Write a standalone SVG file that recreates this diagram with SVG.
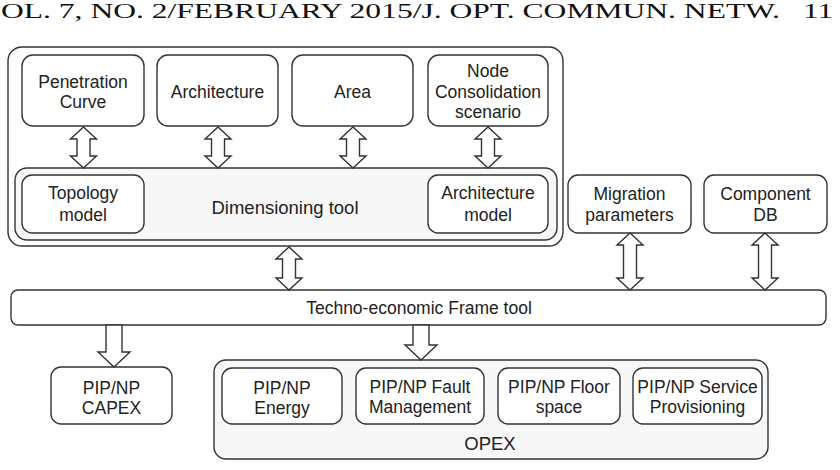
<svg xmlns="http://www.w3.org/2000/svg" width="840" height="470" viewBox="0 0 840 470">
<style>
.box{fill:#fff;stroke:#333;stroke-width:1.4}
.cont{fill:#f7f7f7;stroke:#333;stroke-width:1.4}
.outer{fill:#fff;stroke:#333;stroke-width:1.4}
.arr{fill:#fff;stroke:#333;stroke-width:1.4;stroke-linejoin:miter}
text{font-family:"Liberation Sans",Arial,sans-serif;font-size:17.5px;fill:#222;text-anchor:middle}
.big{font-size:18.5px}
.hdr{font-family:"Liberation Serif","Times New Roman",serif;font-size:20px;fill:#111;text-anchor:start}
</style>
<rect width="840" height="470" fill="#fff"/>
<text class="hdr" x="1" y="18" textLength="779" lengthAdjust="spacingAndGlyphs">OL. 7, NO. 2/FEBRUARY 2015/J. OPT. COMMUN. NETW.</text>
<text class="hdr" x="803" y="18" textLength="30" lengthAdjust="spacingAndGlyphs">11</text>

<g id="dimensioning-group">
<rect class="outer" x="8" y="47" width="555" height="199" rx="14"/>
</g>
<g id="dimensioning-tool">
<rect class="cont" x="15" y="168" width="542" height="72" rx="12"/>
<text class="big" x="285" y="214">Dimensioning tool</text>
</g>
<g id="penetration-curve">
<rect class="box" x="22" y="55" width="122" height="71" rx="11"/>
<text x="83" y="88">Penetration</text><text x="83" y="108">Curve</text>
</g>
<g id="architecture">
<rect class="box" x="157" y="55" width="121" height="71" rx="11"/>
<text x="217.5" y="98">Architecture</text>
</g>
<g id="area">
<rect class="box" x="292" y="55" width="121" height="71" rx="11"/>
<text x="352.5" y="98">Area</text>
</g>
<g id="node-consolidation">
<rect class="box" x="428" y="55" width="120" height="71" rx="11"/>
<text x="488" y="77">Node</text><text x="488" y="98">Consolidation</text><text x="488" y="118">scenario</text>
</g>
<g id="topology-model">
<rect class="box" x="22" y="175" width="122" height="58" rx="10"/>
<text x="83" y="199">Topology</text><text x="83" y="221">model</text>
</g>
<g id="architecture-model">
<rect class="box" x="428" y="175" width="120" height="58" rx="10"/>
<text x="488" y="199">Architecture</text><text x="488" y="221">model</text>
</g>
<g id="migration-parameters">
<rect class="box" x="568" y="175" width="123" height="58" rx="10"/>
<text x="629.5" y="200">Migration</text><text x="629.5" y="221">parameters</text>
</g>
<g id="component-db">
<rect class="box" x="704" y="175" width="123" height="58" rx="10"/>
<text x="765.5" y="200">Component</text><text x="765.5" y="221">DB</text>
</g>
<g id="techno-economic-frame-tool">
<rect class="box" x="11" y="290" width="815" height="35" rx="7"/>
<text x="419" y="314">Techno-economic Frame tool</text>
</g>
<g id="capex">
<rect class="box" x="51" y="367" width="121" height="57" rx="10"/>
<text x="111.5" y="394">PIP/NP</text><text x="111.5" y="414">CAPEX</text>
</g>
<g id="opex">
<rect class="cont" x="214" y="360" width="554" height="99" rx="12"/>
<text class="big" x="490" y="450">OPEX</text>
</g>
<g id="energy">
<rect class="box" x="222" y="368" width="120" height="56" rx="10"/>
<text x="282" y="394">PIP/NP</text><text x="282" y="414">Energy</text>
</g>
<g id="fault-management">
<rect class="box" x="356" y="368" width="128" height="56" rx="10"/>
<text x="420" y="393">PIP/NP Fault</text><text x="420" y="413">Management</text>
</g>
<g id="floor-space">
<rect class="box" x="498" y="368" width="122" height="56" rx="10"/>
<text x="559" y="393">PIP/NP Floor</text><text x="559" y="413">space</text>
</g>
<g id="service-provisioning">
<rect class="box" x="633" y="368" width="129" height="56" rx="10"/>
<text x="697.5" y="393">PIP/NP Service</text><text x="697.5" y="413">Provisioning</text>
</g>

<g id="connectors">
<path class="arr" d="M83.5,127 L96.5,139 L90,139 L90,156 L96.5,156 L83.5,168 L70.5,156 L77,156 L77,139 L70.5,139 Z"/>
<path class="arr" d="M218,127 L231,139 L224.5,139 L224.5,156 L231,156 L218,168 L205,156 L211.5,156 L211.5,139 L205,139 Z"/>
<path class="arr" d="M353,127 L366,139 L359.5,139 L359.5,156 L366,156 L353,168 L340,156 L346.5,156 L346.5,139 L340,139 Z"/>
<path class="arr" d="M488,127 L501,139 L494.5,139 L494.5,156 L501,156 L488,168 L475,156 L481.5,156 L481.5,139 L475,139 Z"/>
<path class="arr" d="M289,247 L302,259 L295.5,259 L295.5,278 L302,278 L289,290 L276,278 L282.5,278 L282.5,259 L276,259 Z"/>
<path class="arr" d="M630,233 L643,245 L636.5,245 L636.5,278 L643,278 L630,290 L617,278 L623.5,278 L623.5,245 L617,245 Z"/>
<path class="arr" d="M765,233 L778,245 L771.5,245 L771.5,278 L778,278 L765,290 L752,278 L758.5,278 L758.5,245 L752,245 Z"/>
<path class="arr" d="M106,325 L122,325 L122,352 L130,352 L114,367 L98,352 L106,352 Z"/>
<path class="arr" d="M413,325 L429,325 L429,345 L437,345 L421,360 L405,345 L413,345 Z"/>
</g>
</svg>
